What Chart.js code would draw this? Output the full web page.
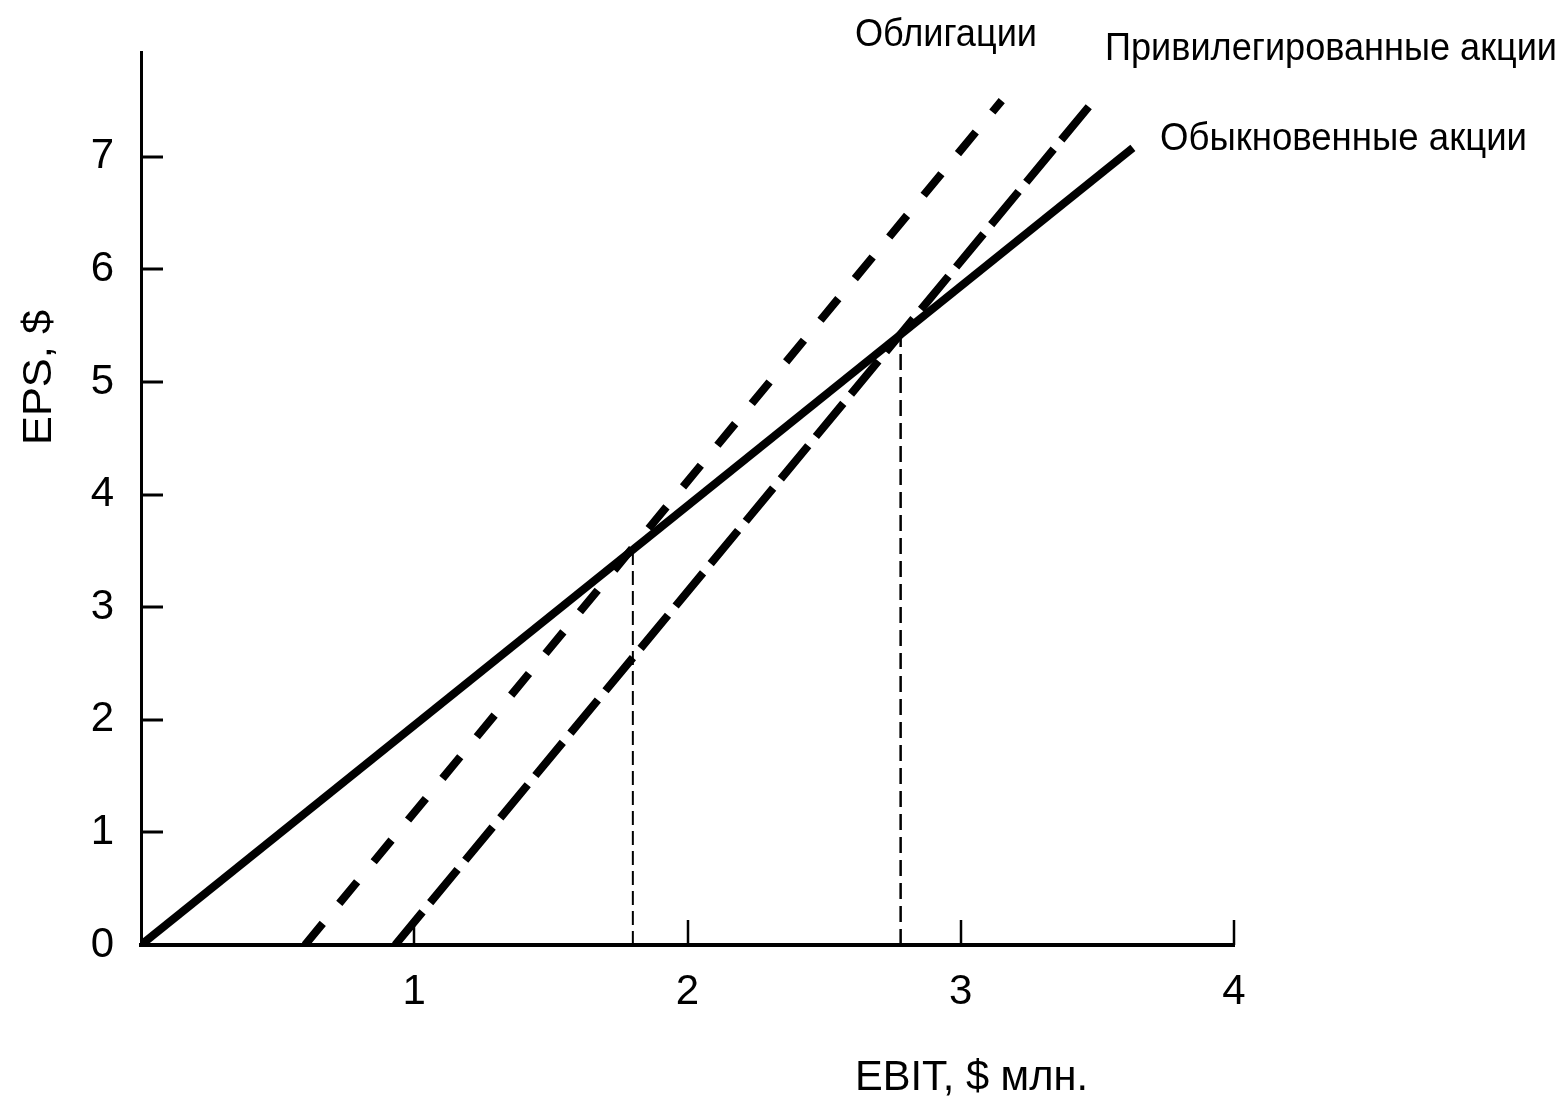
<!DOCTYPE html>
<html>
<head>
<meta charset="utf-8">
<script src="https://cdn.jsdelivr.net/npm/chart.js@4.4.1/dist/chart.umd.min.js"></script>
<style>
  html, body { margin: 0; padding: 0; background: #fff; }
  canvas { display: block; }
</style>
</head>
<body>
<canvas id="ebit-chart" width="1560" height="1099"></canvas>
<script>
// ------------------------------------------------------
// data (EBIT, $ млн. -> EPS, $)
// ------------------------------------------------------
const X_TICKS = [1, 2, 3, 4];
const Y_TICKS = [0, 1, 2, 3, 4, 5, 6, 7];

const commonX = [0, 3.63];      // Обыкновенные акции
const commonY = [0, 7.08];
const bondsX  = [0.6, 3.15];    // Облигации
const bondsY  = [0, 7.5];
const prefX   = [0.93, 3.47];   // Привилегированные акции
const prefY   = [0, 7.45];

const bep1X = [1.8, 1.8];       // точка безразличия 1
const bep1Y = [0, 3.48];
const bep2X = [2.78, 2.78];     // точка безразличия 2
const bep2Y = [0, 5.4];

const SERIES_NAMES = ['Облигации', 'Привилегированные акции', 'Обыкновенные акции'];
const X_TITLE = 'EBIT, $ млн.';
const Y_TITLE = 'EPS, $';

const FONT = "'Liberation Sans Narrow', 'Liberation Sans', Arial, sans-serif";

const pts = (xs, ys) => xs.map((x, i) => ({ x: x, y: ys[i] }));

// ------------------------------------------------------
// text: width-fitted (narrow scan font)
// ------------------------------------------------------
function drawFitted(ctx, text, x, y, width, size, angle){
  ctx.save();
  ctx.font = size + 'px ' + FONT;
  const w = ctx.measureText(text).width;
  ctx.translate(x, y);
  if(angle) ctx.rotate(angle);
  ctx.scale(width / w, 1);
  ctx.fillStyle = '#000';
  ctx.textAlign = 'left';
  ctx.textBaseline = 'middle';
  ctx.fillText(text, 0, 0);
  ctx.restore();
}

// inward tick marks + labels
const decorPlugin = {
  id: 'decor',
  afterDraw(chart){
    const ctx = chart.ctx;
    const xs = chart.scales.x, ys = chart.scales.y;
    const area = chart.chartArea;

    ctx.save();
    ctx.strokeStyle = '#000';
    ctx.lineWidth = 3;
    Y_TICKS.forEach(v => {
      if(v === 0) return;
      const py = Math.round(ys.getPixelForValue(v));
      ctx.beginPath();
      ctx.moveTo(area.left, py);
      ctx.lineTo(area.left + 22, py);
      ctx.stroke();
    });
    ctx.lineWidth = 2.5;
    X_TICKS.forEach(v => {
      const px = Math.round(xs.getPixelForValue(v));
      ctx.beginPath();
      ctx.moveTo(px, area.bottom);
      ctx.lineTo(px, area.bottom - 25);
      ctx.stroke();
    });
    ctx.restore();

    drawFitted(ctx, SERIES_NAMES[0], 855, 36, 182, 38);
    drawFitted(ctx, SERIES_NAMES[1], 1105, 50, 452, 38);
    drawFitted(ctx, SERIES_NAMES[2], 1160, 140, 367, 38);
    drawFitted(ctx, X_TITLE, 855, 1078, 233, 42);
    drawFitted(ctx, Y_TITLE, 40, 445, 135, 40, -Math.PI / 2);
  }
};

const lineBase = { borderColor: '#000', pointRadius: 0, tension: 0, fill: false, borderCapStyle: 'butt' };

new Chart(document.getElementById('ebit-chart').getContext('2d'), {
  type: 'line',
  data: {
    datasets: [
      Object.assign({ label: SERIES_NAMES[2], data: pts(commonX, commonY), borderWidth: 8 }, lineBase),
      Object.assign({ label: SERIES_NAMES[0], data: pts(bondsX, bondsY), borderWidth: 8, borderDash: [28, 26] }, lineBase),
      Object.assign({ label: SERIES_NAMES[1], data: pts(prefX, prefY), borderWidth: 8, borderDash: [43, 12] }, lineBase),
      Object.assign({ label: 'bep1', data: pts(bep1X, bep1Y), borderWidth: 2, borderDash: [14, 6] }, lineBase),
      Object.assign({ label: 'bep2', data: pts(bep2X, bep2Y), borderWidth: 2.5, borderDash: [16, 7] }, lineBase)
    ]
  },
  options: {
    responsive: false,
    devicePixelRatio: 1,
    animation: false,
    layout: { padding: { left: 0, top: 47, right: 326, bottom: 0 } },
    plugins: { legend: { display: false }, tooltip: { enabled: false } },
    scales: {
      x: {
        type: 'linear',
        min: 0, max: 4,
        afterFit: s => { s.height = 154; },
        afterBuildTicks: s => { s.ticks = X_TICKS.map(v => ({ value: v })); },
        grid: { display: false, drawTicks: false },
        border: { display: true, color: '#000', width: 4 },
        ticks: { color: '#000', padding: 22, font: { family: FONT, size: 42 } }
      },
      y: {
        type: 'linear',
        min: 0, max: 7.93,
        afterFit: s => { s.width = 141; },
        afterBuildTicks: s => { s.ticks = Y_TICKS.map(v => ({ value: v })); },
        grid: { display: false, drawTicks: false },
        border: { display: true, color: '#000', width: 3 },
        ticks: { color: '#000', padding: 27, font: { family: FONT, size: 42 } }
      }
    }
  },
  plugins: [decorPlugin]
});
</script>
</body>
</html>
